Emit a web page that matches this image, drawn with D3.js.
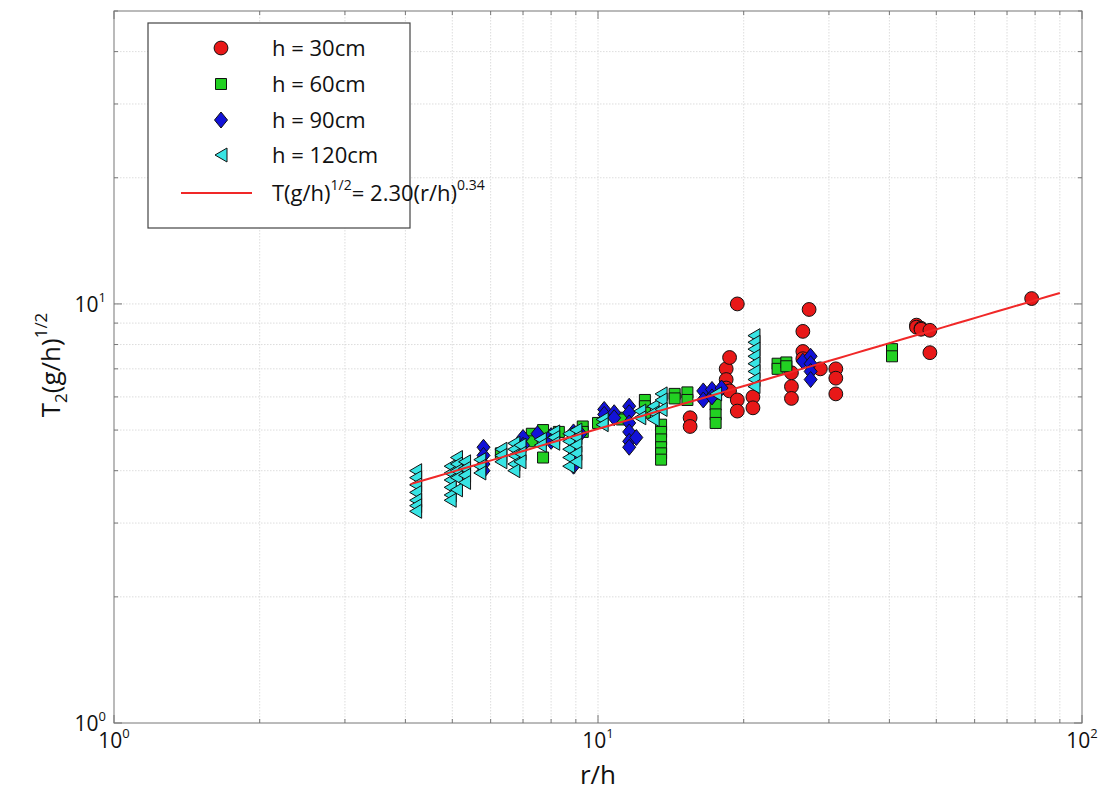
<!DOCTYPE html>
<html>
  <head>
    <meta charset="utf-8">
    <style>
      body { margin: 0; background: #fff; }
      text { font-family: "Open Sans", sans-serif; fill: #111; }
    </style>
  </head>
  <body>
    <script src="https://cdn.jsdelivr.net/npm/d3@7"></script>
    <script>
    // r/h , T2 (g/h)^1/2
    var h30 = [
      [15.5, 5.35], [15.5, 5.1],
      [18.4, 7.0], [18.4, 6.6], [18.4, 6.3], [18.7, 7.45], [18.7, 6.2],
      [19.4, 10.0], [19.4, 5.9], [19.4, 5.55],
      [20.9, 6.0], [20.9, 5.65],
      [25.1, 6.85], [25.1, 6.35], [25.1, 5.95],
      [26.5, 8.6], [26.5, 7.7], [26.5, 7.4], [27.3, 9.7], [28.8, 7.0],
      [31.0, 7.0], [31.0, 6.65], [31.0, 6.1],
      [45.5, 8.9], [45.5, 8.8], [46.5, 8.75], [46.5, 8.7], [48.5, 8.65], [48.5, 7.65],
      [78.7, 10.3]
    ];
    var h60 = [
      [5.1, 3.95], [6.3, 4.4], [7.3, 4.9], [7.3, 4.7], [7.7, 5.0], [7.7, 4.3],
      [8.3, 4.95], [9.3, 5.1], [9.3, 4.95], [10.0, 5.2], [11.0, 5.35], [11.2, 5.3],
      [12.5, 5.9], [12.5, 5.7], [12.5, 5.5],
      [13.5, 5.15], [13.5, 4.95], [13.5, 4.75], [13.5, 4.55], [13.5, 4.4], [13.5, 4.25],
      [14.4, 6.1], [14.4, 5.95], [15.3, 6.15], [15.3, 5.9],
      [17.5, 5.75], [17.5, 5.45], [17.5, 5.2],
      [23.5, 7.2], [23.5, 7.0], [24.5, 7.25], [24.5, 7.1],
      [40.5, 7.8], [40.5, 7.5]
    ];
    var h90 = [
      [5.8, 4.55], [5.8, 4.35], [5.8, 4.15], [5.8, 4.0],
      [7.0, 4.8], [7.0, 4.6], [7.5, 4.9], [8.0, 4.85], [8.0, 4.7],
      [8.9, 4.95], [8.9, 4.75], [8.9, 4.55], [8.9, 4.35], [8.9, 4.1], [9.2, 4.9],
      [10.3, 5.6], [10.3, 5.45], [10.8, 5.5], [10.8, 5.35],
      [11.6, 5.7], [11.6, 5.5], [11.6, 5.2], [11.6, 4.95], [11.6, 4.7], [11.6, 4.55],
      [12.0, 4.8],
      [16.5, 6.2], [16.5, 5.9], [17.2, 6.25], [17.2, 6.0], [18.0, 6.3],
      [26.5, 7.3], [27.5, 7.5], [27.5, 7.2], [27.5, 6.9], [27.5, 6.6]
    ];
    var h120 = [
      [4.2, 4.0], [4.2, 3.85], [4.2, 3.7], [4.2, 3.55], [4.2, 3.4], [4.2, 3.3], [4.2, 3.2],
      [4.95, 4.1], [4.95, 3.95], [4.95, 3.8], [4.95, 3.65], [4.95, 3.5], [4.95, 3.4],
      [5.1, 4.3], [5.1, 4.15], [5.1, 4.0], [5.1, 3.85], [5.1, 3.6],
      [5.3, 4.2], [5.3, 4.05], [5.3, 3.9], [5.3, 3.75],
      [5.7, 4.25], [5.7, 4.1], [5.7, 3.95],
      [6.3, 4.5], [6.3, 4.35], [6.3, 4.2],
      [6.7, 4.65], [6.7, 4.5], [6.7, 4.35], [6.7, 4.15], [6.7, 4.0],
      [6.9, 4.6], [6.9, 4.4], [6.9, 4.2],
      [7.6, 4.75], [7.6, 4.6], [8.1, 4.95], [8.1, 4.8], [8.1, 4.65],
      [8.7, 4.9], [8.7, 4.7], [8.7, 4.5], [8.7, 4.3], [8.7, 4.1],
      [9.0, 5.0], [9.0, 4.8], [9.0, 4.6], [9.0, 4.4], [9.0, 4.2],
      [10.2, 5.3], [10.2, 5.15], [12.2, 5.55], [12.2, 5.35],
      [13.0, 5.7], [13.0, 5.5], [13.0, 5.3], [13.5, 6.1], [13.5, 5.9], [13.5, 5.6],
      [17.5, 6.1],
      [21.0, 8.4], [21.0, 8.1], [21.0, 7.8], [21.0, 7.5], [21.0, 7.2], [21.0, 6.9], [21.0, 6.6], [21.0, 6.35]
    ];

    var seriesNames = ["h = 30cm", "h = 60cm", "h = 90cm", "h = 120cm"];
    var seriesColors = ["#e81818", "#22d022", "#1212d8", "#38e4e4"];
    var fitA = 2.30, fitB = 0.34, fitRange = [4.1, 90];

    var xTicks = [1, 10, 100], yTicks = [1, 10];

    var W = 1107, H = 792;
    var plot = { left: 114, right: 1082, top: 11, bottom: 723 };

    var svg = d3.select("body").append("svg")
        .attr("width", W).attr("height", H);

    var x = d3.scaleLog().domain([1, 100]).range([plot.left, plot.right]);
    var y = d3.scaleLog().domain([1, 50]).range([plot.bottom, plot.top]);

    // minor + major log ticks
    function logTicks(lo, hi) {
      var t = [];
      for (var d = 1; d < hi; d *= 10)
        for (var m = 1; m < 10; m++)
          if (d * m >= lo && d * m <= hi) t.push(d * m);
      if (t.indexOf(hi) < 0) t.push(hi);
      return t;
    }
    var xAll = logTicks(1, 100), yAll = logTicks(1, 50);

    var grid = svg.append("g").attr("stroke", "#d4d4d4").attr("stroke-width", 0.8)
        .attr("stroke-dasharray", "1.5,1.5");
    grid.selectAll(".gx").data(xAll.filter(function (d) { return d > 1 && d < 100; }))
      .enter().append("line")
        .attr("x1", function (d) { return x(d); }).attr("x2", function (d) { return x(d); })
        .attr("y1", plot.top).attr("y2", plot.bottom);
    grid.selectAll(".gy").data(yAll.filter(function (d) { return d > 1 && d < 50; }))
      .enter().append("line")
        .attr("y1", function (d) { return y(d); }).attr("y2", function (d) { return y(d); })
        .attr("x1", plot.left).attr("x2", plot.right);

    // axes with inward ticks on all sides (matlab box)
    function tickLen(d) { return Math.abs(Math.log10(d) - Math.round(Math.log10(d))) < 1e-9 ? 8 : 4; }
    var axes = svg.append("g").attr("stroke", "#777").attr("stroke-width", 1);
    xAll.forEach(function (d) {
      var L = tickLen(d);
      axes.append("line").attr("x1", x(d)).attr("x2", x(d)).attr("y1", plot.bottom).attr("y2", plot.bottom - L);
      axes.append("line").attr("x1", x(d)).attr("x2", x(d)).attr("y1", plot.top).attr("y2", plot.top + L);
    });
    yAll.forEach(function (d) {
      var L = tickLen(d);
      axes.append("line").attr("y1", y(d)).attr("y2", y(d)).attr("x1", plot.left).attr("x2", plot.left + L);
      axes.append("line").attr("y1", y(d)).attr("y2", y(d)).attr("x1", plot.right).attr("x2", plot.right - L);
    });
    axes.append("rect").attr("x", plot.left).attr("y", plot.top)
        .attr("width", plot.right - plot.left).attr("height", plot.bottom - plot.top)
        .attr("fill", "none");

    function powLabel(g, exp) {
      g.append("tspan").text("10");
      g.append("tspan").attr("dy", -10).attr("font-size", 13).text(exp);
    }
    xTicks.forEach(function (d) {
      var t = svg.append("text").attr("x", x(d)).attr("y", plot.bottom + 25)
          .attr("font-size", 21).attr("text-anchor", "middle");
      powLabel(t, Math.round(Math.log10(d)));
    });
    yTicks.forEach(function (d) {
      var t = svg.append("text").attr("x", plot.left - 8).attr("y", y(d) + 8)
          .attr("font-size", 21).attr("text-anchor", "end");
      powLabel(t, Math.round(Math.log10(d)));
    });

    svg.append("text").attr("x", x(10)).attr("y", 784).attr("font-size", 26)
        .attr("text-anchor", "middle").text("r/h");

    var yt = svg.append("text").attr("transform", "translate(60,365) rotate(-90)")
        .attr("font-size", 26).attr("text-anchor", "middle");
    yt.append("tspan").text("T");
    yt.append("tspan").attr("dy", 7).attr("font-size", 17).text("2");
    yt.append("tspan").attr("dy", -7).text("(g/h)");
    yt.append("tspan").attr("dy", -13).attr("font-size", 17).text("1/2");

    // markers
    function markerPath(i) {
      if (i === 0) return d3.symbol(d3.symbolCircle, 150)();
      if (i === 1) return "M-5.5,-5.5H5.5V5.5H-5.5Z";
      if (i === 2) return "M0,-8L6.5,0L0,8L-6.5,0Z";
      return "M-6,0L6,-7L6,7Z";
    }
    var series = [h30, h60, h90, h120];
    var clipId = "clip";
    svg.append("clipPath").attr("id", clipId).append("rect")
        .attr("x", plot.left).attr("y", plot.top)
        .attr("width", plot.right - plot.left).attr("height", plot.bottom - plot.top);
    var marks = svg.append("g").attr("clip-path", "url(#clip)");
    series.forEach(function (s, i) {
      marks.append("g").selectAll("path").data(s).enter().append("path")
        .attr("d", markerPath(i))
        .attr("transform", function (d) { return "translate(" + x(d[0]) + "," + y(d[1]) + ")"; })
        .attr("fill", seriesColors[i]).attr("stroke", "#111").attr("stroke-width", 1);
    });

    var fitPts = d3.range(0, 51).map(function (k) {
      var r = fitRange[0] * Math.pow(fitRange[1] / fitRange[0], k / 50);
      return [r, fitA * Math.pow(r, fitB)];
    });
    marks.append("path").datum(fitPts)
      .attr("fill", "none").attr("stroke", "#f02828").attr("stroke-width", 2)
      .attr("d", d3.line().x(function (d) { return x(d[0]); }).y(function (d) { return y(d[1]); }));

    // legend
    var lg = svg.append("g");
    lg.append("rect").attr("x", 148).attr("y", 23).attr("width", 262).attr("height", 205)
      .attr("fill", "#fff").attr("stroke", "#444").attr("stroke-width", 1.2);
    var rowY = [48, 84, 120, 155, 193];
    seriesNames.forEach(function (n, i) {
      lg.append("path").attr("d", markerPath(i))
        .attr("transform", "translate(221," + rowY[i] + ")")
        .attr("fill", seriesColors[i]).attr("stroke", "#111").attr("stroke-width", 1);
      lg.append("text").attr("x", 272).attr("y", rowY[i] + 8).attr("font-size", 22).text(n);
    });
    lg.append("line").attr("x1", 181).attr("x2", 252).attr("y1", rowY[4]).attr("y2", rowY[4])
      .attr("stroke", "#f02828").attr("stroke-width", 2);
    var ft = lg.append("text").attr("x", 272).attr("y", rowY[4] + 8).attr("font-size", 22);
    ft.append("tspan").text("T(g/h)");
    ft.append("tspan").attr("dy", -11).attr("font-size", 14).text("1/2");
    ft.append("tspan").attr("dy", 11).text("= 2.30(r/h)");
    ft.append("tspan").attr("dy", -11).attr("font-size", 14).text("0.34");
    </script>
  </body>
</html>
